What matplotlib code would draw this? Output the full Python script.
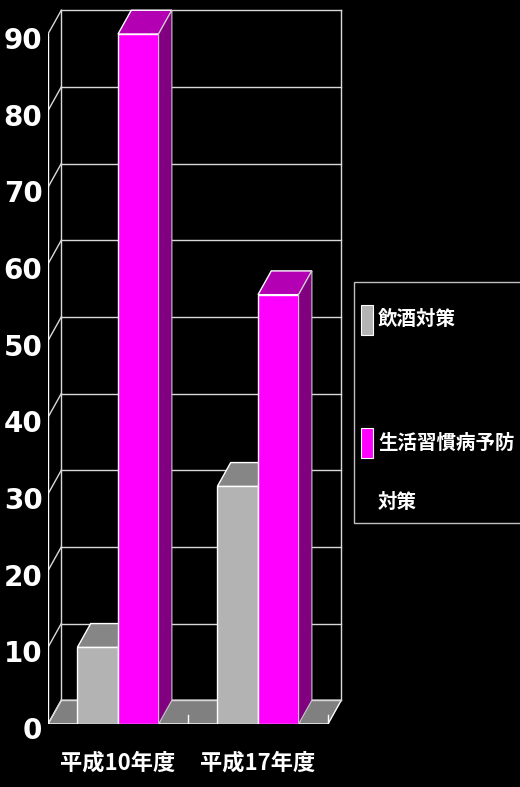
import matplotlib
matplotlib.use("Agg")
import matplotlib.pyplot as plt
import matplotlib.transforms as mtransforms
from matplotlib import font_manager
from matplotlib.patches import Polygon, Rectangle

# data
categories = ["平成10年度", "平成17年度"]
series_names = ["飲酒対策", "生活習慣病予防\n対策"]
series_values = [[10, 31], [90, 56]]
yticks = [0, 10, 20, 30, 40, 50, 60, 70, 80, 90]

front_colors = ["#b3b3b3", "#ff00ff"]
top_colors = ["#868686", "#b300b3"]
side_colors = ["#808080", "#800080"]


def pick_font(names):
    for n in names:
        try:
            font_manager.findfont(n, fallback_to_default=False)
            return n
        except Exception:
            pass
    return "DejaVu Sans"


num_font = pick_font(["Liberation Sans Narrow", "DejaVu Sans Condensed", "DejaVu Sans"])
jp_font = ["Noto Sans CJK JP", "DejaVu Sans"]

fig = plt.figure(figsize=(5.2, 7.87), dpi=100, facecolor="black")
W, H = 520, 787
ymax, xmax = 94.0, 2.15
px_per_unit_y = 690 / 90.0
px_per_unit_x = 140.0
ax = fig.add_axes([48 / W, 63 / H, xmax * px_per_unit_x / W, ymax * px_per_unit_y / H])
ax.set_facecolor("black")
ax.set_xlim(0, xmax)
ax.set_ylim(0, ymax)
for s in ax.spines.values():
    s.set_visible(False)

dx, dy = 0.095, 3.1
grid_c = "#d9d9d9"

# floor
ax.add_patch(Polygon([(0, 0), (2, 0), (2 + dx, dy), (dx, dy)], closed=True,
                     facecolor="#808080", edgecolor="white", lw=1, zorder=1))
# back wall grid + frame
for v in yticks:
    ax.plot([dx, 2 + dx], [v + dy, v + dy], color=grid_c, lw=1, zorder=1)
    ax.plot([0, dx], [v, v + dy], color=grid_c, lw=1, zorder=1)
ax.plot([dx, dx], [dy, 90 + dy], color=grid_c, lw=1, zorder=1)
ax.plot([2 + dx, 2 + dx], [dy, 90 + dy], color=grid_c, lw=1, zorder=1)
ax.plot([0, 0], [0, 90], color="white", lw=1, zorder=6)
for xt in [1, 2]:
    ax.plot([xt, xt], [0, 1.2], color="white", lw=1, zorder=2)

# bars
bw = 0.29
offsets = [-bw / 2, bw / 2]
for ci in range(len(categories)):
    for si in range(len(series_values)):
        val = series_values[si][ci]
        xc = ci + 0.5 + offsets[si]
        x0, x1 = xc - bw / 2, xc + bw / 2
        z = 3 + si
        ax.bar(xc, val, width=bw, color=front_colors[si], edgecolor="white",
               lw=1, zorder=z)
        ax.add_patch(Polygon([(x0, val), (x1, val), (x1 + dx, val + dy), (x0 + dx, val + dy)],
                             closed=True, facecolor=top_colors[si], edgecolor="white",
                             lw=1, zorder=z))
        ax.add_patch(Polygon([(x1, 0), (x1 + dx, dy), (x1 + dx, val + dy), (x1, val)],
                             closed=True, facecolor=side_colors[si], edgecolor="#c8c8c8",
                             lw=0.8, zorder=z))

ax.set_yticks(yticks)
ax.set_yticklabels([str(v) for v in yticks], fontsize=20, fontweight="bold",
                   family=num_font, color="white")
ax.set_xticks([0.5, 1.5])
ax.set_xticklabels(categories, fontsize=16, fontweight="bold", family=jp_font,
                   color="white")
ax.tick_params(axis="y", length=0, pad=4)
ax.tick_params(axis="x", length=0, pad=20)
# y labels sit a little below their gridline in the original
shift = mtransforms.ScaledTranslation(0, -3 / 72, fig.dpi_scale_trans)
for lbl in ax.get_yticklabels():
    lbl.set_transform(lbl.get_transform() + shift)

# legend
fig.patches.append(Rectangle((354 / W, 1 - 523 / H), 200 / W, 241 / H,
                             transform=fig.transFigure, facecolor="black",
                             edgecolor="#c0c0c0", lw=1))
legend_y = [320, 443]
line_gap = 59
for si, name in enumerate(series_names):
    yc = legend_y[si]
    fig.patches.append(Rectangle((361 / W, 1 - (yc + 15) / H), 12 / W, 30 / H,
                                 transform=fig.transFigure,
                                 facecolor=front_colors[si], edgecolor="white", lw=0.8))
    for k, line in enumerate(name.split("\n")):
        fig.text(378 / W, 1 - (yc + k * line_gap) / H, line, fontsize=14,
                 fontweight="bold", family=jp_font, color="white",
                 va="center", ha="left")

fig.savefig("out.png", dpi=100, facecolor="black")
